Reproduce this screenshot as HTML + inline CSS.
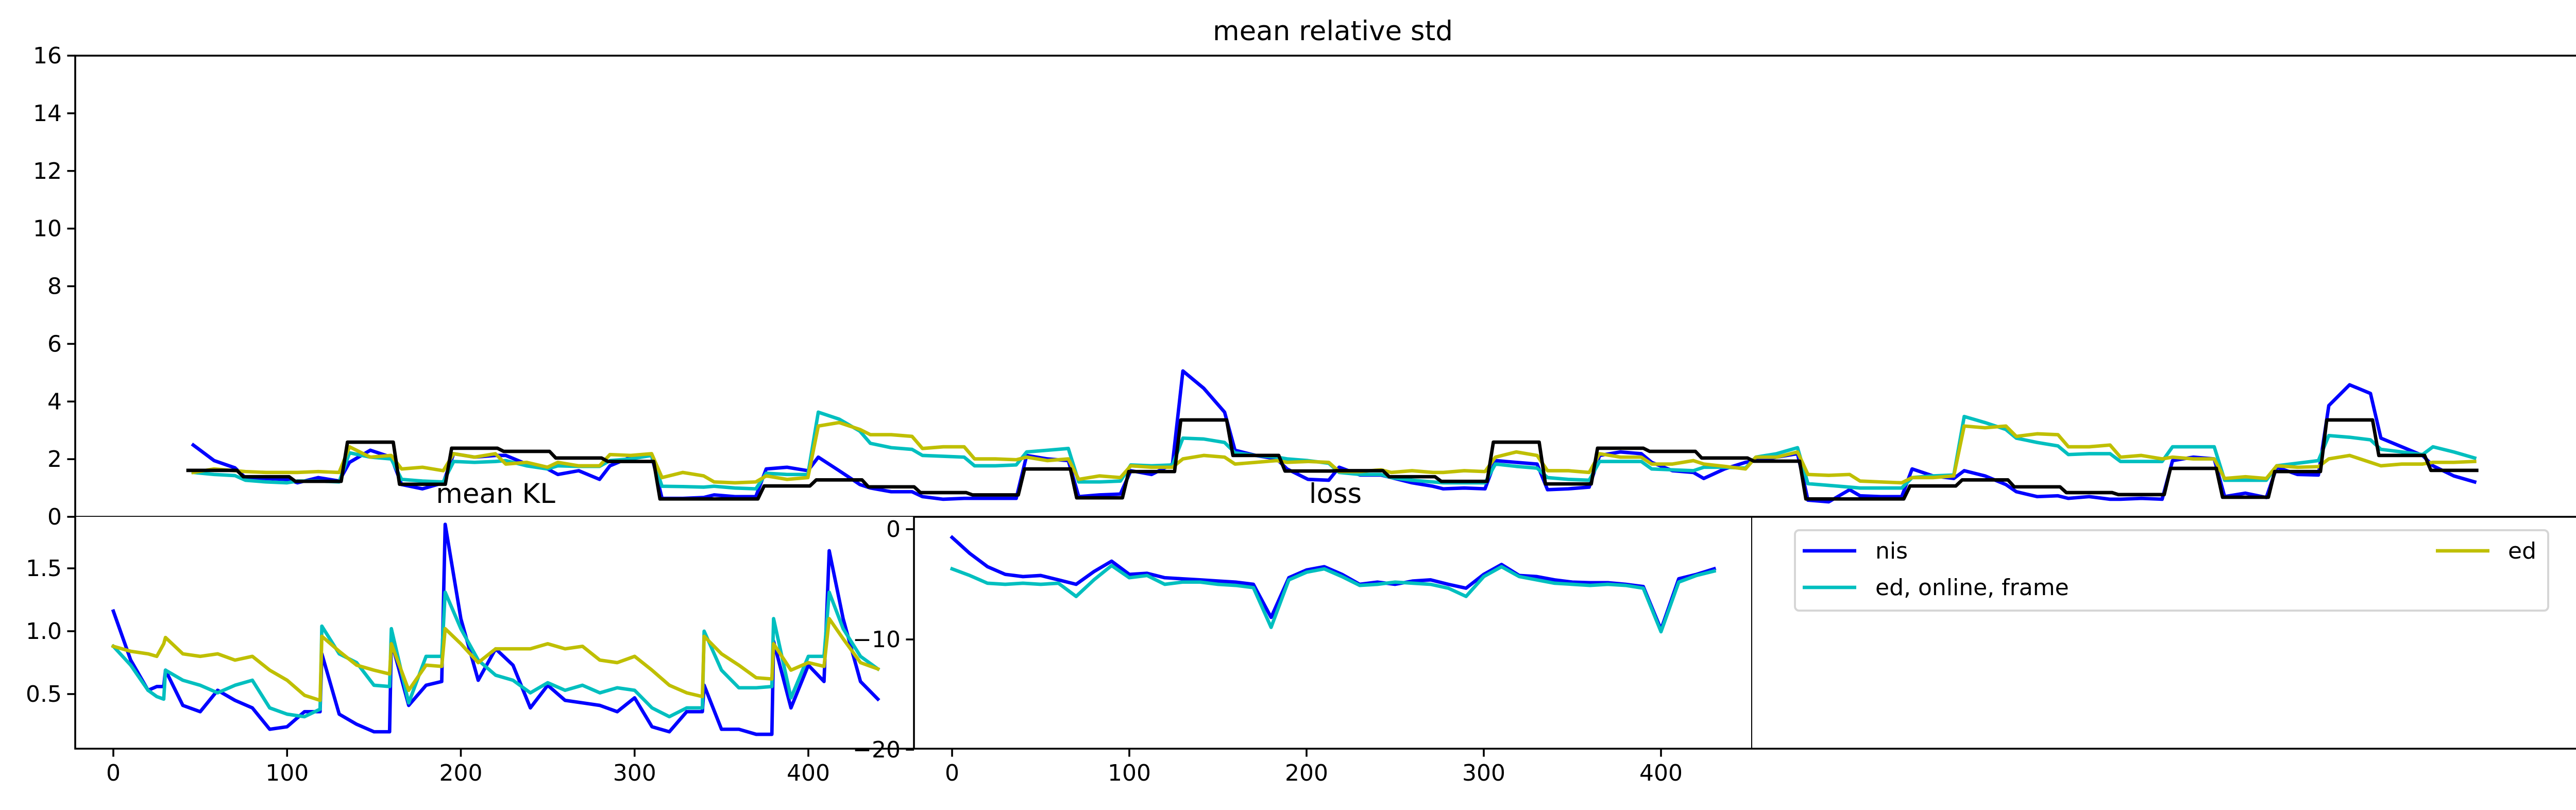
<!DOCTYPE html>
<html><head><meta charset="utf-8"><style>
html,body{margin:0;padding:0;background:#fff;}
svg{display:block;font-family:"DejaVu Sans","Liberation Sans",sans-serif;}
</style></head><body>
<svg id="fig" width="5063" height="1572" viewBox="0 0 5063 1572" xmlns="http://www.w3.org/2000/svg">
<rect x="0" y="0" width="5063" height="1572" fill="#fff"/>
<g id="main"></g>
<g id="kl"></g>
<g id="loss"></g>
<g id="leg">
<rect x="3484" y="1029" width="1462" height="156" rx="8" fill="#fff" stroke="#d6d6d6" stroke-width="4"/>
<line x1="3499" y1="1069" x2="3603" y2="1069" stroke="#0000ff" stroke-width="6.7"/>
<text x="3640" y="1084" font-size="44">nis</text>
<line x1="3499" y1="1140" x2="3603" y2="1140" stroke="#00bfbf" stroke-width="6.7"/>
<text x="3640" y="1155" font-size="44">ed, online, frame</text>
<line x1="4728" y1="1069" x2="4832" y2="1069" stroke="#bfbf00" stroke-width="6.7"/>
<text x="4868" y="1084" font-size="44">ed</text>
</g>
</svg>
<script>
// ---- main chart data (values per segment: start, mid, end) ----
const mainBlack = [1.61,1.39,1.23,2.59,1.13,2.38,2.27,2.04,1.92,0.62,0.62,1.07,1.28,1.04,0.84,0.76,1.66,0.66,1.57,3.36,2.13,1.59,1.6,1.39,1.23,2.59,1.14,2.38,2.27,2.04,1.93,0.62,0.62,1.07,1.28,1.04,0.84,0.77,1.68,0.68,1.57,3.36,2.13,1.61];
const mainNis = [2.49,1.95,1.7, 1.36,1.33,1.3, 1.18,1.36,1.24, 1.89,2.31,2.07, 1.12,0.97,1.18, 2.19,2.07,2.13, 2.13,1.83,1.66, 1.47,1.6,1.3, 1.77,2.07,2.13, 0.64,0.64,0.67, 0.76,0.7,0.7, 1.66,1.72,1.6, 2.07,1.6,1.12, 1.0,0.87,0.87, 0.7,0.61,0.64, 0.64,0.64,0.64, 2.13,2.01,1.95, 0.7,0.76,0.79, 1.6,1.47,1.83, 5.06,4.46,3.63, 2.31,2.13,2.01, 1.66,1.3,1.27, 1.72,1.45,1.45, 1.36,1.18,1.06, 0.97,1.0,0.97, 1.95,1.89,1.83, 0.94,0.97,1.03, 2.13,2.25,2.19, 1.89,1.6,1.54, 1.33,1.66,1.89, 1.95,2.07,2.19, 0.58,0.52,0.94, 0.73,0.7,0.7, 1.66,1.42,1.33, 1.6,1.42,1.12, 0.87,0.7,0.73, 0.64,0.7,0.61, 0.61,0.64,0.61, 1.95,2.07,2.01, 0.7,0.82,0.67, 1.72,1.47,1.45, 3.86,4.58,4.28, 2.73,2.43,2.13, 1.77,1.42,1.21];
const mainEdOnline = [1.54,1.47,1.43, 1.27,1.21,1.18, 1.24,1.24,1.21, 2.22,2.07,2.01, 1.3,1.24,1.21, 1.92,1.89,1.92, 1.95,1.77,1.66, 1.77,1.75,1.75, 1.95,2.01,2.13, 1.06,1.05,1.03, 1.06,1.0,0.97, 1.51,1.47,1.47, 3.63,3.39,2.97, 2.55,2.4,2.34, 2.13,2.1,2.07, 1.77,1.77,1.8, 2.25,2.31,2.37, 1.21,1.21,1.24, 1.8,1.77,1.8, 2.73,2.7,2.58, 2.22,2.13,2.07, 2.01,1.95,1.86, 1.54,1.47,1.47, 1.36,1.27,1.21, 1.18,1.18,1.18, 1.83,1.75,1.69, 1.36,1.3,1.27, 1.92,1.92,1.92, 1.66,1.63,1.6, 1.72,1.72,1.69, 2.07,2.19,2.4, 1.15,1.09,1.03, 1.0,1.0,1.0, 1.36,1.42,1.45, 3.48,3.27,3.03, 2.73,2.58,2.46, 2.16,2.19,2.19, 1.92,1.92,1.92, 2.43,2.43,2.43, 1.27,1.27,1.27, 1.77,1.86,1.95, 2.82,2.76,2.67, 2.34,2.25,2.16, 2.43,2.25,2.04];
const mainEd = [1.54,1.66,1.6, 1.57,1.54,1.54, 1.54,1.57,1.54, 2.43,2.07,2.13, 1.66,1.72,1.6, 2.19,2.07,2.19, 1.83,1.89,1.72, 1.89,1.77,1.77, 2.16,2.13,2.19, 1.36,1.54,1.42, 1.21,1.18,1.21, 1.42,1.3,1.36, 3.15,3.27,3.03, 2.85,2.85,2.79, 2.37,2.43,2.43, 2.01,2.01,1.98, 2.07,1.95,2.01, 1.3,1.42,1.36, 1.77,1.72,1.72, 2.01,2.13,2.07, 1.83,1.89,1.95, 1.89,1.92,1.89, 1.57,1.57,1.63, 1.54,1.6,1.54, 1.54,1.6,1.57, 2.07,2.25,2.13, 1.6,1.6,1.54, 2.19,2.07,2.07, 1.83,1.83,1.95, 1.83,1.75,1.66, 2.07,2.07,2.25, 1.47,1.44,1.47, 1.24,1.21,1.18, 1.36,1.36,1.42, 3.15,3.09,3.15, 2.79,2.88,2.85, 2.43,2.43,2.49, 2.07,2.13,2.01, 2.07,2.01,2.01, 1.33,1.39,1.33, 1.77,1.72,1.74, 2.01,2.13,1.89, 1.77,1.83,1.83, 1.89,1.89,1.92];
const mainYTicks = [0,2,4,6,8,10,12,14,16];

// ---- mean KL data ----
const klX = [0,10,20,25,29,30,40,50,60,70,80,90,100,110,119,120,130,140,150,159,160,170,180,189,191,200,210,220,230,240,250,260,270,280,290,300,310,320,330,339,340,350,360,370,379,380,390,400,409,412,420,430,440];
const klNis = [1.16,0.77,0.53,0.56,0.56,0.69,0.41,0.36,0.53,0.45,0.39,0.22,0.24,0.36,0.36,0.82,0.34,0.26,0.2,0.2,0.92,0.41,0.57,0.6,1.85,1.1,0.61,0.86,0.73,0.39,0.57,0.45,0.43,0.41,0.36,0.47,0.24,0.2,0.36,0.36,0.57,0.22,0.22,0.18,0.18,0.92,0.39,0.73,0.6,1.64,1.1,0.6,0.46];
const klEdOnline = [0.88,0.73,0.53,0.48,0.46,0.69,0.61,0.57,0.51,0.57,0.61,0.39,0.34,0.32,0.38,1.04,0.82,0.75,0.57,0.56,1.02,0.43,0.8,0.8,1.31,1.02,0.77,0.65,0.61,0.51,0.59,0.53,0.57,0.51,0.55,0.53,0.39,0.32,0.39,0.39,1.0,0.69,0.55,0.55,0.56,1.1,0.47,0.8,0.8,1.31,1.02,0.8,0.7];
const klEd = [0.88,0.84,0.82,0.8,0.9,0.95,0.82,0.8,0.82,0.77,0.8,0.69,0.61,0.49,0.45,0.96,0.84,0.73,0.69,0.66,0.9,0.53,0.73,0.72,1.02,0.9,0.75,0.86,0.86,0.86,0.9,0.86,0.88,0.77,0.75,0.8,0.69,0.57,0.51,0.48,0.96,0.82,0.73,0.63,0.62,0.9,0.69,0.75,0.72,1.1,0.94,0.75,0.7];
const klYTicks = [0.5,1.0,1.5];
const klXTicks = [0,100,200,300,400];

// ---- loss data ----
const lossX = [0,10,20,30,40,50,60,70,80,90,100,110,120,130,140,150,160,170,180,190,200,210,220,230,240,250,260,270,280,290,300,310,320,330,340,350,360,370,380,390,400,410,420,430];
const lossNis = [-0.75,-2.2,-3.4,-4.1,-4.3,-4.2,-4.6,-5.0,-3.85,-2.9,-4.1,-4.0,-4.4,-4.5,-4.6,-4.7,-4.8,-5.0,-8.0,-4.4,-3.7,-3.4,-4.1,-5.0,-4.8,-5.0,-4.7,-4.6,-5.0,-5.35,-4.1,-3.2,-4.2,-4.3,-4.6,-4.8,-4.85,-4.85,-5.0,-5.2,-9.1,-4.5,-4.1,-3.6];
const lossEdOnline = [-3.6,-4.2,-4.9,-5.0,-4.9,-5.0,-4.9,-6.1,-4.6,-3.3,-4.4,-4.2,-5.0,-4.8,-4.8,-5.0,-5.1,-5.3,-8.9,-4.6,-3.9,-3.6,-4.3,-5.1,-5.0,-4.8,-4.9,-5.0,-5.35,-6.1,-4.3,-3.4,-4.3,-4.6,-4.9,-5.0,-5.1,-5.0,-5.1,-5.35,-9.3,-4.8,-4.2,-3.8];
const lossYTicks = [0,-10,-20];
const lossXTicks = [0,100,200,300,400];

const NS = "http://www.w3.org/2000/svg";
function mk(parent, tag, attrs){const e=document.createElementNS(NS,tag);for(const k in attrs)e.setAttribute(k,attrs[k]);parent.appendChild(e);return e;}
function poly(parent, pts, color){const e=mk(parent,'polyline',{points:pts.map(p=>p[0].toFixed(1)+','+p[1].toFixed(1)).join(' '),fill:'none',stroke:color,'stroke-width':6.7,'stroke-linejoin':'round','stroke-linecap':'square'});return e;}

// ===== main =====
const gM=document.getElementById('main');
const mL=146,mR=5028,mT=108,mB=1003;
const segPx=101.1, seg0=365;
function mx(t){return seg0+t*segPx;}
function my(v){return mB-(v-0)/(16-0)*(mB-mT);}
mainYTicks.forEach(v=>{
  const tk=mk(gM,'line',{x1:mL-15.6,y1:my(v),x2:mL,y2:my(v),stroke:'#000','stroke-width':3.6});
  
  
  const tx=mk(gM,'text',{x:mL-26,y:my(v)+15,'font-size':44,'text-anchor':'end'});
  tx.textContent=String(v);
  
  
});
function segPts(arr){const pts=[];const f=[0.1,0.5,0.9];arr.forEach((v,i)=>{const s=Math.floor(i/3);const t=s+f[i%3];pts.push([mx(t),my(v)]);});return pts;}
const pN=poly(gM,segPts(mainNis),'#0000ff');


const pC=poly(gM,segPts(mainEdOnline),'#00bfbf');


const pY=poly(gM,segPts(mainEd),'#bfbf00');


const bPts=[];mainBlack.forEach((v,k)=>{bPts.push([mx(k===0?0:k+0.06),my(v)]);bPts.push([mx(k+0.94),my(v)]);});
const pB=poly(gM,bPts,'#000000');


const mf=mk(gM,'rect',{x:mL,y:mT,width:mR-mL,height:mB-mT,fill:'none',stroke:'#000','stroke-width':3.6});


const mt=mk(gM,'text',{x:(mL+mR)/2,y:78,'font-size':53,'text-anchor':'middle'});
mt.textContent='mean relative std';



// ===== KL =====
const gK=document.getElementById('kl');
const kL=146,kR=1774,kT=1003,kB=1453;
function kx(u){return 220+u*3.3725;}
function ky(v){return 1469-v*244;}
const kBg=mk(gK,'rect',{x:kL,y:kT,width:kR-kL,height:kB-kT,fill:'#fff'});


const kNis=poly(gK,klX.map((u,i)=>[kx(u),ky(klNis[i])]),'#0000ff');


const kC=poly(gK,klX.map((u,i)=>[kx(u),ky(klEdOnline[i])]),'#00bfbf');


const kY=poly(gK,klX.map((u,i)=>[kx(u),ky(klEd[i])]),'#bfbf00');


klYTicks.forEach(v=>{
  const tk=mk(gK,'line',{x1:kL-15.6,y1:ky(v),x2:kL,y2:ky(v),stroke:'#000','stroke-width':3.6});
  
  
  const tx=mk(gK,'text',{x:kL-26,y:ky(v)+15,'font-size':44,'text-anchor':'end'});
  tx.textContent=v.toFixed(1);
  
  
});
klXTicks.forEach(v=>{
  const tk=mk(gK,'line',{x1:kx(v),y1:kB,x2:kx(v),y2:kB+15.6,stroke:'#000','stroke-width':3.6});
  
  
  const tx=mk(gK,'text',{x:kx(v),y:kB+62,'font-size':44,'text-anchor':'middle'});
  tx.textContent=String(v);
  
  
});
const kAx=mk(gK,'path',{d:`M${kL},${kT} V${kB} H${kR}`,fill:'none',stroke:'#000','stroke-width':3.6});


const kt=mk(gK,'text',{x:962,y:976,'font-size':53,'text-anchor':'middle'});
kt.textContent='mean KL';



// ===== loss =====
const gL=document.getElementById('loss');
const lL=1774,lR=3400,lT=1003,lB=1453;
function lx(u){return 1848+u*3.44;}
function ly(v){return 1027-v*21.4;}
const lBg=mk(gL,'rect',{x:lL,y:lT+2,width:lR-lL,height:lB-lT-2,fill:'#fff'});


const lN=poly(gL,lossX.map((u,i)=>[lx(u),ly(lossNis[i])]),'#0000ff');


const lC=poly(gL,lossX.map((u,i)=>[lx(u),ly(lossEdOnline[i])]),'#00bfbf');


lossYTicks.forEach(v=>{
  const tk=mk(gL,'line',{x1:lL-15.6,y1:ly(v),x2:lL,y2:ly(v),stroke:'#000','stroke-width':3.6});
  
  
  const tx=mk(gL,'text',{x:lL-26,y:ly(v)+15,'font-size':44,'text-anchor':'end'});
  tx.textContent=v<0?'\u2212'+Math.abs(v):String(v);
  
  
});
lossXTicks.forEach(v=>{
  const tk=mk(gL,'line',{x1:lx(v),y1:lB,x2:lx(v),y2:lB+15.6,stroke:'#000','stroke-width':3.6});
  
  
  const tx=mk(gL,'text',{x:lx(v),y:lB+62,'font-size':44,'text-anchor':'middle'});
  tx.textContent=String(v);
  
  
});
const lAx=mk(gL,'path',{d:`M${lL},${lT} V${lB} H${mR}`,fill:'none',stroke:'#000','stroke-width':3.6});


const sep=mk(gL,'line',{x1:lR,y1:lT,x2:lR,y2:lB,stroke:'#000','stroke-width':2});


const rs=mk(gL,'line',{x1:mR,y1:mT,x2:mR,y2:lB,stroke:'#000','stroke-width':5});


const lt=mk(gL,'text',{x:2592,y:976,'font-size':53,'text-anchor':'middle'});
lt.textContent='loss';


</script>
</body></html>
